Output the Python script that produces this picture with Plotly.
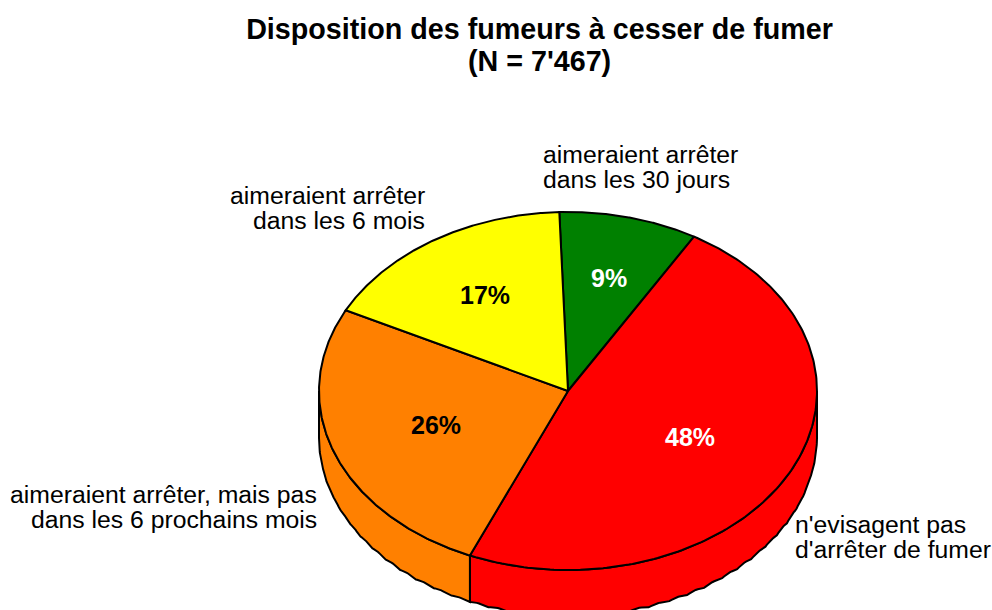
import numpy as np
import plotly.graph_objects as go

# Data
categories = ["aimeraient arrêter dans les 30 jours", "n'evisagent pas d'arrêter de fumer",
              "aimeraient arrêter, mais pas dans les 6 prochains mois", "aimeraient arrêter dans les 6 mois"]
values = [9, 48, 26, 17]
value_labels = ["9%", "48%", "26%", "17%"]
colors = ["#008000", "#FF0000", "#FF8000", "#FFFF00"]
label_colors = ["white", "white", "black", "black"]
title_lines = ["Disposition des fumeurs à cesser de fumer", "(N = 7'467)"]

# Geometry of the drawn pie (pixels on the page)
CX, CY, RX, RY, DEPTH = 568, 391, 249, 179, 47
START = -2.0
LW = 2
FONT = "Liberation Sans, Arial, sans-serif"
PCT_POS = [(609, 278), (690, 437), (436, 425), (485, 295)]


def pt(t, dy=0.0):
    r = np.radians(t)
    return CX + RX * np.sin(r), CY - RY * np.cos(r) + dy


fig = go.Figure()

# Cumulative angles from the values
total = sum(values)
edges = [START]
for v in values:
    edges.append(edges[-1] + 360 * v / total)

# Side walls (visible from 90 to 270 degrees)
for i, c in enumerate(colors):
    a, b = max(edges[i], 90), min(edges[i + 1], 270)
    if a >= b:
        continue
    ts = np.linspace(a, b, 200)
    x_top, y_top = pt(ts)
    scallop = -1.7 * np.abs(np.sin(np.radians(ts) * 38))
    x_bot, y_bot = pt(ts[::-1], DEPTH + scallop[::-1])
    fig.add_trace(go.Scatter(x=np.r_[x_top, x_bot, x_top[0]], y=np.r_[y_top, y_bot, y_top[0]],
                             mode="lines", fill="toself", fillcolor=c,
                             line=dict(color="black", width=LW), hoverinfo="skip", showlegend=False))

# Top wedges
for i, c in enumerate(colors):
    ts = np.linspace(edges[i], edges[i + 1], 200)
    x, y = pt(ts)
    fig.add_trace(go.Scatter(x=np.r_[CX, x, CX], y=np.r_[CY, y, CY], mode="lines", fill="toself",
                             fillcolor=c, line=dict(color="black", width=LW),
                             hoverinfo="skip", showlegend=False))

# Percent labels
for lab, (x, y), col in zip(value_labels, PCT_POS, label_colors):
    fig.add_annotation(x=x, y=y, text=f"<b>{lab}</b>", showarrow=False, xanchor="center", yanchor="middle",
                       font=dict(family=FONT, size=25, color=col))

# Category labels, one annotation per line for exact leading
label_lines = [
    (["aimeraient arrêter", "dans les 30 jours"], 542, 154, "left"),
    (["n'evisagent pas", "d'arrêter de fumer"], 794, 524, "left"),
    (["aimeraient arrêter, mais pas", "dans les 6 prochains mois"], 318, 494, "right"),
    (["aimeraient arrêter", "dans les 6 mois"], 426, 195, "right"),
]
for lines, x, y, anchor in label_lines:
    for k, line in enumerate(lines):
        fig.add_annotation(x=x, y=y + 25 * k, text=line, showarrow=False, xanchor=anchor, yanchor="middle",
                           borderpad=0, font=dict(family=FONT, size=24.75, color="black"))

# Second title line (plotly's own title leading is wider than the reference)
fig.add_annotation(x=539, y=61, text=f"<b>{title_lines[1]}</b>", showarrow=False, xanchor="center",
                   yanchor="middle", font=dict(family=FONT, size=28.7, color="black"))

fig.update_layout(
    title=dict(text=f"<b>{title_lines[0]}</b>", x=539.5 / 992, xanchor="center",
               y=1 - 29 / 610, yanchor="middle", font=dict(family=FONT, size=28.7, color="black")),
    width=992, height=610, margin=dict(l=0, r=0, t=0, b=0),
    paper_bgcolor="white", plot_bgcolor="white",
    xaxis=dict(range=[0, 992], visible=False, fixedrange=True),
    yaxis=dict(range=[610, 0], visible=False, fixedrange=True),
)
fig.write_html("out.html", config=dict(displayModeBar=False),
               post_script="document.body.style.margin='0';")
